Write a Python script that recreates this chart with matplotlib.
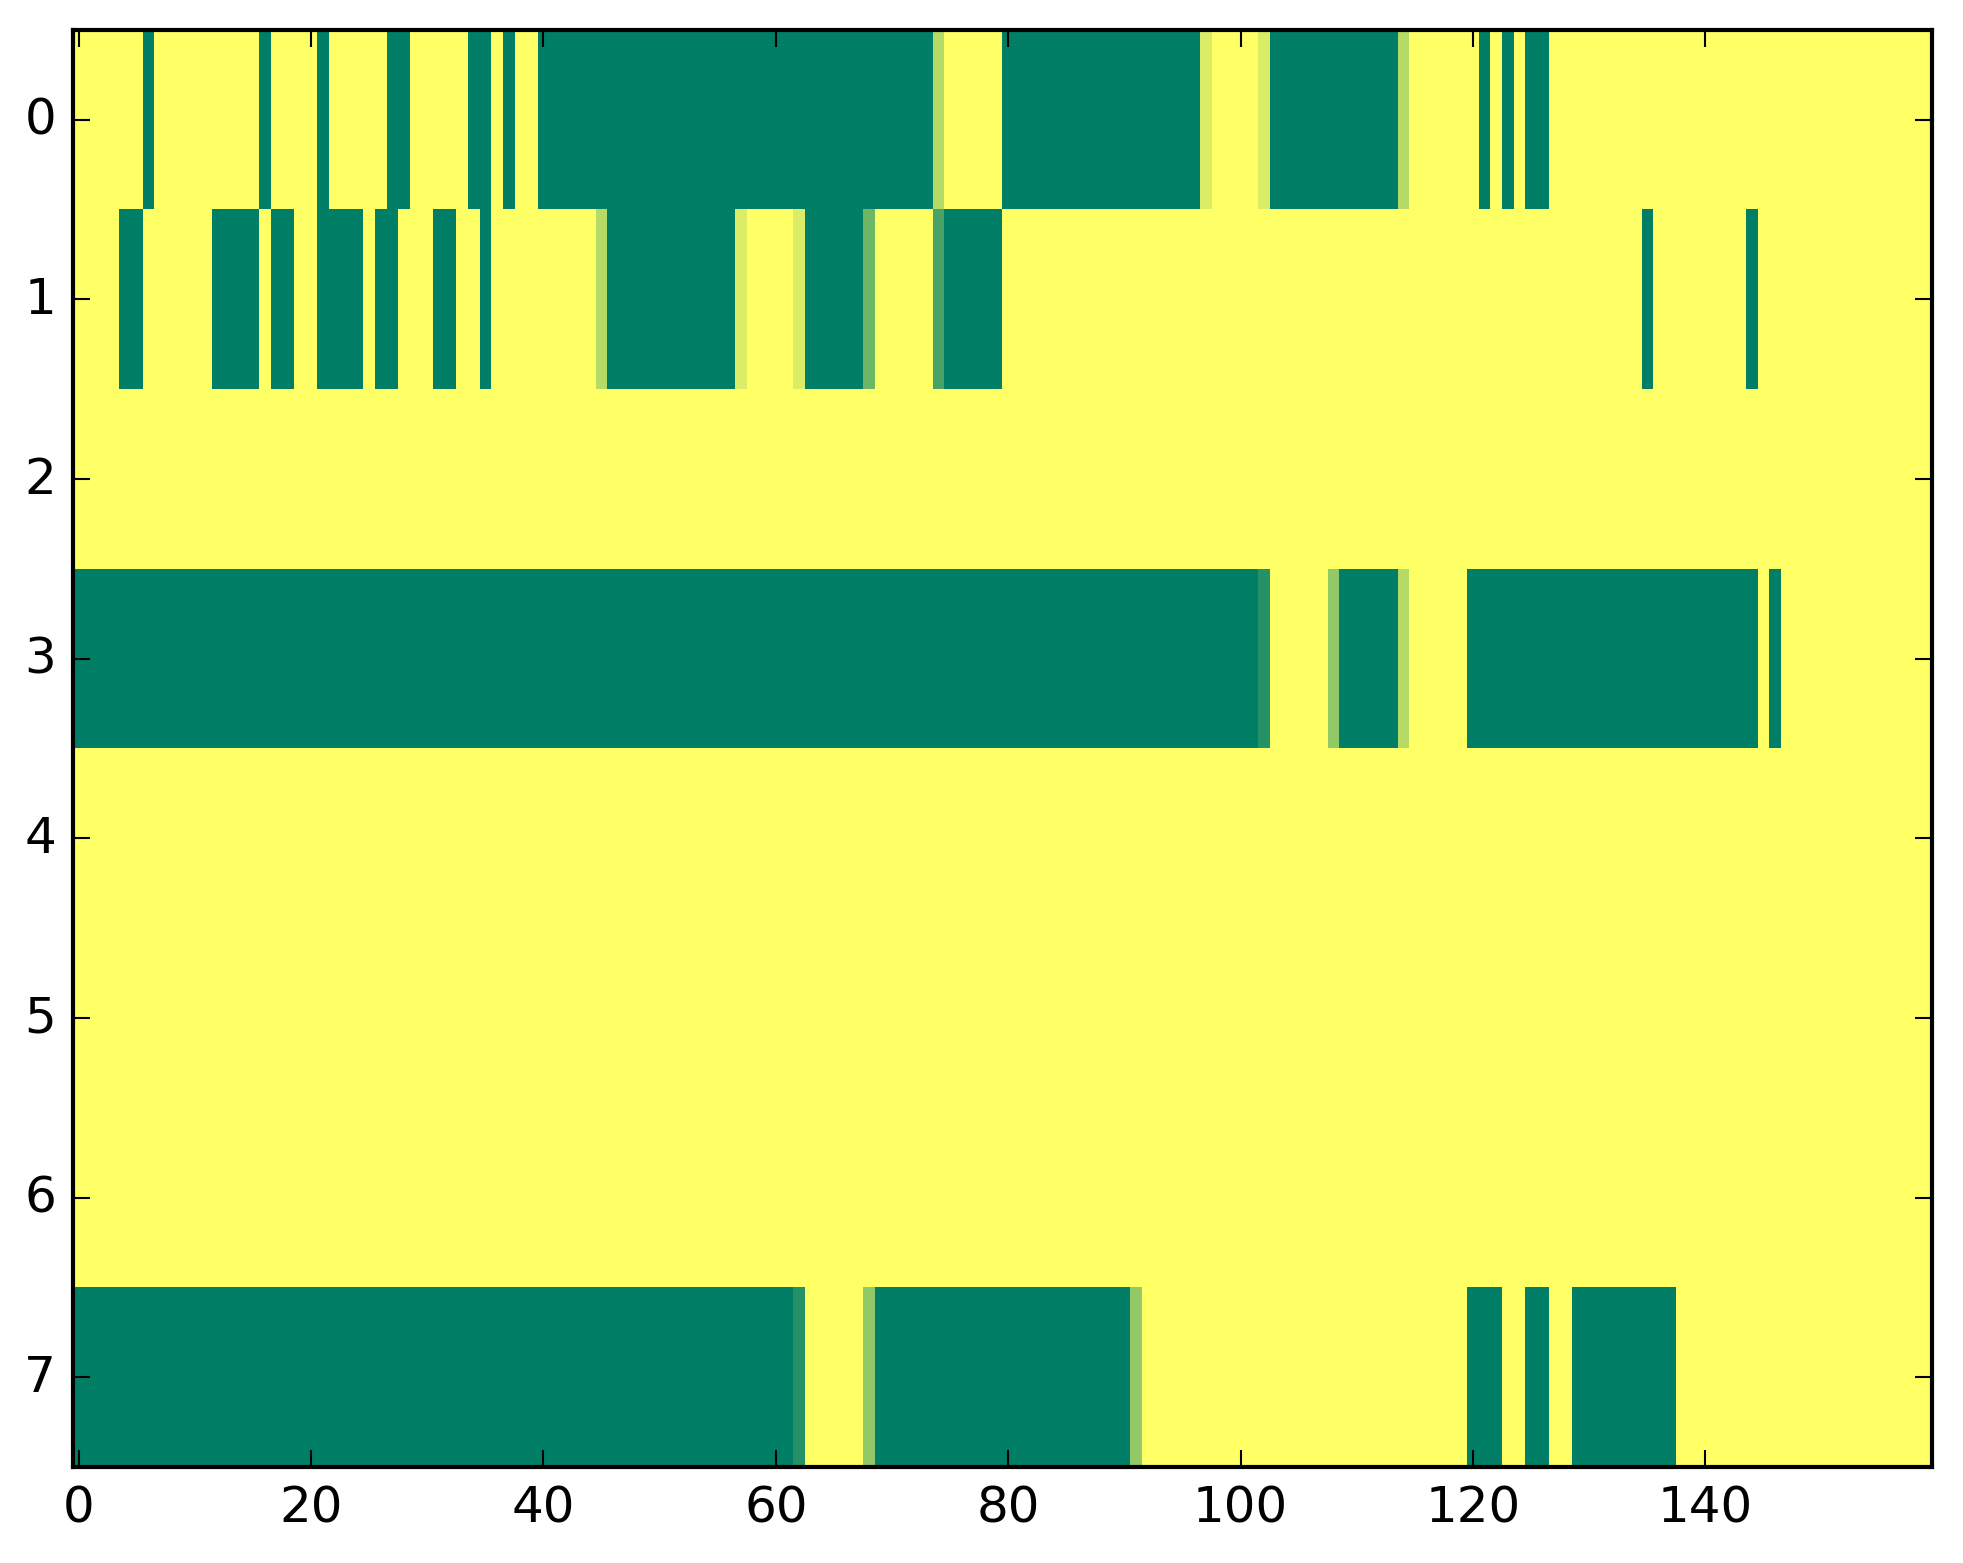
import matplotlib

matplotlib.use("Agg")

import matplotlib.pyplot as plt
import numpy as np

n_rows = 8
n_cols = 160

# runs of zero-valued cells (inclusive start, end) per row; everything else is 1
zero_runs = {
    0: [(6, 6), (16, 16), (21, 21), (27, 28), (34, 35), (37, 37), (40, 73),
        (80, 96), (103, 113), (121, 121), (123, 123), (125, 126)],
    1: [(4, 5), (12, 15), (17, 18), (21, 24), (26, 27), (31, 32), (35, 35),
        (46, 56), (63, 67), (75, 79), (135, 135), (144, 144)],
    3: [(0, 101), (109, 113), (120, 144), (146, 146)],
    7: [(0, 61), (69, 90), (120, 122), (125, 126), (129, 137)],
}

# cells with fractional values (in sevenths)
partial_cells = {
    0: {74: 5, 97: 6, 102: 6, 114: 5},
    1: {45: 5, 57: 6, 62: 6, 68: 3, 74: 2},
    3: {102: 1, 108: 4, 114: 5},
    7: {62: 1, 68: 4, 91: 4},
}

data = np.ones((n_rows, n_cols))
for row, runs in zero_runs.items():
    for a, b in runs:
        data[row, a:b + 1] = 0.0
for row, cells in partial_cells.items():
    for col, k in cells.items():
        data[row, col] = k / 7.0

plt.style.use("classic")
W, H, DPI = 1963, 1564, 300
fig = plt.figure(figsize=(W / DPI, H / DPI), dpi=DPI)
ax = fig.add_axes([72.9 / W, (H - 1468) / H, 1859 / W, 1437 / H])

ax.imshow(data, cmap="summer", aspect="auto", interpolation="nearest")
ax.set_xlim(-0.5, n_cols - 0.5)
ax.set_ylim(n_rows - 0.5, -0.5)
ax.set_xticks(np.arange(0, 141, 20))
ax.set_yticks(np.arange(0, n_rows))

fig.savefig("out.png", dpi=DPI)
